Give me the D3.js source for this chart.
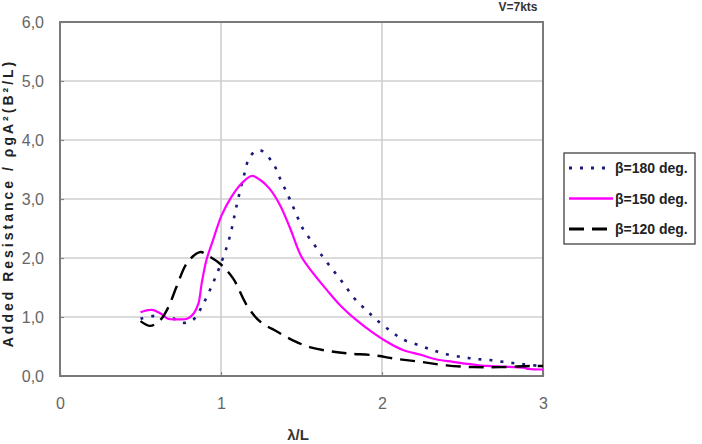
<!DOCTYPE html>
<html>
<head>
<meta charset="utf-8">
<script src="https://cdn.jsdelivr.net/npm/d3@7"></script>
<style>
html,body{margin:0;padding:0;background:#fff;}
svg{display:block;}
</style>
</head>
<body>
<svg id="chart" width="702" height="444"></svg>
<script>
// ---- data ----
const xTicks = [0, 1, 2, 3];
const yTicks = [0, 1, 2, 3, 4, 5, 6];
const seriesNames = ["β=180 deg.", "β=150 deg.", "β=120 deg."];

const lambda180 = [0.5,0.59,0.68,0.77,0.83,0.88,0.93,0.98,1.035,1.066,1.09,1.115,1.145,1.18,1.24,1.32,1.37,1.42,1.46,1.51,1.57,1.635,1.70,1.76,1.83,1.905,1.98,2.06,2.13,2.23,2.315,2.40,2.50,2.58,2.67,2.78,2.88,2.98];
const raw180    = [0.97,1.02,1.0,0.9,0.96,1.17,1.45,1.77,2.18,2.49,2.8,3.1,3.42,3.72,3.83,3.62,3.33,3.04,2.79,2.49,2.26,2.01,1.78,1.57,1.31,1.11,0.92,0.75,0.62,0.52,0.44,0.37,0.32,0.29,0.27,0.23,0.20,0.17];

const lambda150 = [0.5,0.57,0.63,0.67,0.73,0.79,0.83,0.86,0.88,0.91,0.95,1.005,1.066,1.13,1.19,1.24,1.30,1.366,1.43,1.50,1.573,1.657,1.74,1.84,1.93,2.03,2.13,2.24,2.34,2.44,2.55,2.65,2.75,2.88,2.91,3.0];
const raw150    = [1.08,1.12,1.05,0.97,0.96,0.97,1.06,1.23,1.57,1.97,2.3,2.73,3.04,3.27,3.39,3.33,3.18,2.9,2.5,2.02,1.74,1.46,1.2,0.95,0.76,0.58,0.44,0.36,0.28,0.24,0.2,0.17,0.16,0.14,0.12,0.11];

const lambda120 = [0.5,0.56,0.62,0.67,0.725,0.79,0.87,0.92,1.0,1.076,1.16,1.24,1.35,1.45,1.55,1.70,1.80,1.95,2.09,2.24,2.40,2.57,2.73,2.92,3.0];
const raw120    = [0.93,0.85,0.94,1.15,1.52,1.92,2.10,2.04,1.89,1.65,1.2,0.93,0.75,0.6,0.49,0.41,0.38,0.35,0.29,0.24,0.18,0.15,0.15,0.17,0.17];

// ---- styles (kept separate from data) ----
const styles = [
  {color: "#1a1a7a", width: 2.6, dash: "3,8"},
  {color: "#ff00ff", width: 2.2, dash: null},
  {color: "#000000", width: 2.4, dash: "15,8"}
];

const series = [
  lambda180.map((x, i) => ({x, y: raw180[i]})),
  lambda150.map((x, i) => ({x, y: raw150[i]})),
  lambda120.map((x, i) => ({x, y: raw120[i]}))
];

const svg = d3.select("#chart");
const L = 60, R = 543, T = 22, B = 376;
const x = d3.scaleLinear().domain([0, 3]).range([L, R]);
const y = d3.scaleLinear().domain([0, 6]).range([B, T]);

// grid
svg.append("g").selectAll("line.h").data(yTicks.slice(1, -1)).enter().append("line")
  .attr("x1", L).attr("x2", R).attr("y1", d => y(d)).attr("y2", d => y(d))
  .attr("stroke", "#cfcfcf").attr("stroke-width", 1.6);
svg.append("g").selectAll("line.v").data(xTicks.slice(1, -1)).enter().append("line")
  .attr("y1", T).attr("y2", B).attr("x1", d => x(d)).attr("x2", d => x(d))
  .attr("stroke", "#cfcfcf").attr("stroke-width", 1.6);

// axes
const fmt = d => d3.format(".1f")(d).replace(".", ",");
const yAxis = svg.append("g").attr("transform", `translate(${L},0)`)
  .call(d3.axisLeft(y).tickValues(yTicks).tickFormat(fmt).tickSize(-4).tickPadding(16));
const xAxis = svg.append("g").attr("transform", `translate(0,${B})`)
  .call(d3.axisBottom(x).tickValues(xTicks).tickFormat(d3.format("d")).tickSize(-4).tickPadding(22));
[yAxis, xAxis].forEach(g => {
  g.select(".domain").remove();
  g.selectAll(".tick line").attr("stroke", "#888").attr("stroke-width", 1.2);
  g.selectAll(".tick text").attr("fill", "#666").attr("font-family", "Liberation Sans, Arial, sans-serif").attr("font-size", 16);
});

// frame
svg.append("rect").attr("x", L).attr("y", T).attr("width", R - L).attr("height", B - T)
  .attr("fill", "none").attr("stroke", "#7a7a7a").attr("stroke-width", 2);

// lines
const line = d3.line().x(d => x(d.x)).y(d => y(d.y)).curve(d3.curveCatmullRom.alpha(0.5));
series.forEach((s, i) => {
  svg.append("path").datum(s).attr("d", line)
    .attr("fill", "none").attr("stroke", styles[i].color)
    .attr("stroke-width", styles[i].width)
    .attr("stroke-dasharray", styles[i].dash)
    .attr("stroke-linecap", "butt");
});

// legend
const lg = svg.append("g");
lg.append("rect").attr("x", 564).attr("y", 153).attr("width", 131).attr("height", 91)
  .attr("fill", "#fff").attr("stroke", "#333").attr("stroke-width", 1.2);
seriesNames.forEach((name, i) => {
  const yy = 168 + i * 30.5;
  lg.append("line").attr("x1", 569).attr("x2", 613).attr("y1", yy).attr("y2", yy)
    .attr("stroke", styles[i].color).attr("stroke-width", styles[i].width + 0.4)
    .attr("stroke-dasharray", styles[i].dash);
  lg.append("text").attr("x", 615).attr("y", yy + 5).text(name)
    .attr("font-family", "Liberation Sans, Arial, sans-serif").attr("font-weight", "bold")
    .attr("font-size", 14).attr("fill", "#222");
});

// titles
svg.append("text").attr("x", 518).attr("y", 11).attr("text-anchor", "middle").text("V=7kts")
  .attr("font-family", "Liberation Sans, Arial, sans-serif").attr("font-weight", "bold")
  .attr("font-size", 12).attr("fill", "#333");
svg.append("text").attr("x", 298).attr("y", 440).attr("text-anchor", "middle").text("λ/L")
  .attr("font-family", "Liberation Sans, Arial, sans-serif").attr("font-weight", "bold")
  .attr("font-size", 15).attr("fill", "#333");
svg.append("text").attr("transform", "translate(13,203) rotate(-90)").attr("text-anchor", "middle")
  .text("Added Resistance / ρgA²(B²/L)")
  .attr("font-family", "Liberation Sans, Arial, sans-serif").attr("font-weight", "bold")
  .attr("font-size", 14).attr("letter-spacing", 3).attr("fill", "#222");
</script>
</body>
</html>
